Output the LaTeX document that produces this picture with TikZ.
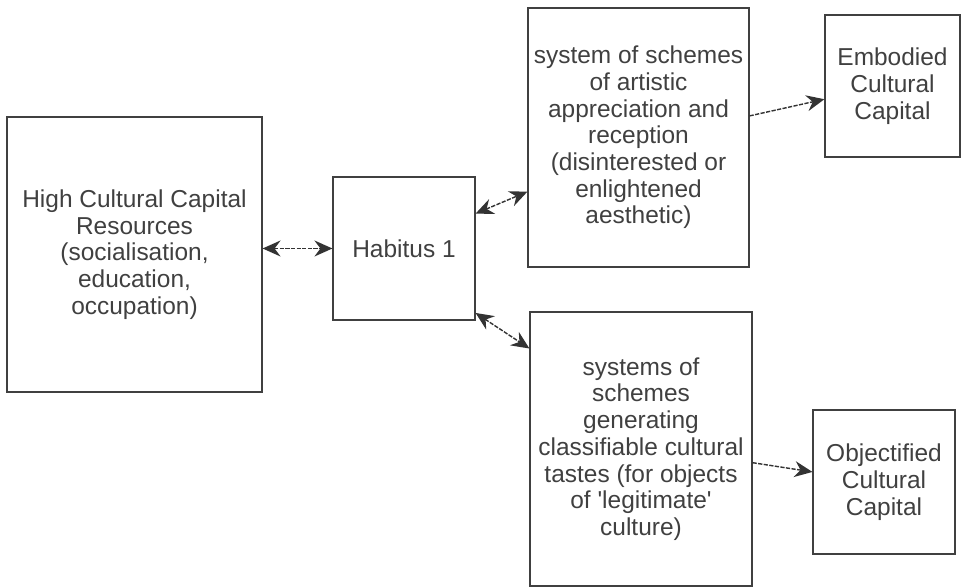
\documentclass[tikz,border=0pt]{standalone}
\usepackage{fontspec}
\setmainfont{Liberation Sans}[Ligatures=TeXOff]
\usetikzlibrary{arrows.meta}
\usetikzlibrary{shapes}

\begin{document}
\begin{tikzpicture}

\tikzstyle{block}=[rectangle, draw=black!75, line width=0.8pt, inner sep=0pt, align=center, text=black!75, font=\fontsize{17.4}{19}\selectfont]
\tikzstyle{connect}=[-{Stealth[length=4.5mm, width=4mm, inset=1.5mm]}, color=black!80, line width=1pt, dash pattern=on 3pt off 1pt]
\tikzstyle{dconnect}=[{Stealth[length=4.5mm, width=4mm, inset=1.5mm]}-{Stealth[length=4.5mm, width=4mm, inset=1.5mm]}, color=black!80, line width=1pt, dash pattern=on 3pt off 1pt]

\useasboundingbox (0,0) rectangle (24.025,14.675);

\node[block, minimum width=6.375cm, minimum height=6.875cm] (resources) at (3.3625,8.3125) {High Cultural Capital\\Resources\\(socialisation,\\education,\\occupation)};
\node[block, minimum width=3.55cm, minimum height=3.575cm] (habitus) at (10.1,8.4625) {Habitus 1};

\node[block, minimum width=5.525cm, minimum height=6.475cm] (artistic) at (15.9625,11.2375) {system of schemes\\of artistic\\appreciation and\\reception\\(disinterested or\\enlightened\\aesthetic)};
\node[block, minimum width=5.55cm, minimum height=6.85cm] (tastes) at (16.025,3.45) {systems of\\schemes\\generating\\classifiable cultural\\tastes (for objects\\of 'legitimate'\\culture)};

\node[block, minimum width=3.375cm, minimum height=3.55cm] (embodied) at (22.3125,12.525) {Embodied\\Cultural\\Capital};
\node[block, minimum width=3.55cm, minimum height=3.6cm] (objectified) at (22.1,2.625) {Objectified\\Cultural\\Capital};


\path (habitus.west -| resources.east) [dconnect] edge (habitus.west);

\path (habitus.26.6) [dconnect] edge (artistic.206.7);
\path (habitus.318.2) [dconnect] edge (tastes.138.8);

\path (artistic.11.5) [connect] edge (embodied.191.7);
\path (tastes.-7.2) [connect] edge (objectified.172);

\end{tikzpicture}
\end{document}
